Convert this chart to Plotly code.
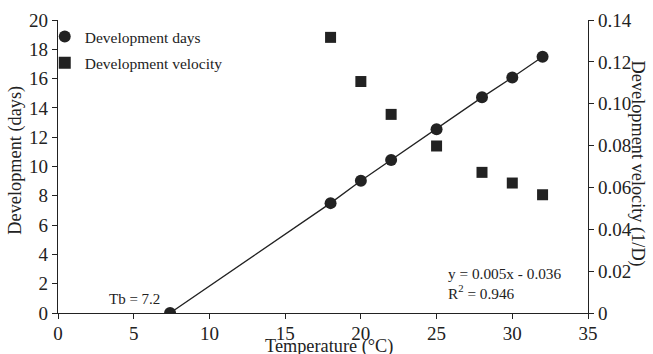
import plotly.graph_objects as go

temps = [7.4, 18, 20, 22, 25, 28, 30, 32]
dev_days = [0, 7.50, 9.03, 10.45, 12.55, 14.72, 16.07, 17.49]
vel_temps = [18, 20, 22, 25, 28, 30, 32]
dev_velocity = [0.1317, 0.1106, 0.0949, 0.0798, 0.0672, 0.0621, 0.0565]

x_ticks = [0, 5, 10, 15, 20, 25, 30, 35]
y_ticks = [0, 2, 4, 6, 8, 10, 12, 14, 16, 18, 20]
y2_ticks = [0, 0.02, 0.04, 0.06, 0.08, 0.10, 0.12, 0.14]
y2_labels = ["0", "0.02", "0.04", "0.06", "0.08", "0.10", "0.12", "0.14"]

C = "#222222"
FONT = "Liberation Serif"

fig = go.Figure()
fig.add_trace(go.Scatter(x=temps, y=dev_days, mode="lines",
                         line=dict(color=C, width=1.3), showlegend=False, hoverinfo="skip"))
fig.add_trace(go.Scatter(x=temps, y=dev_days, mode="markers", name="Development days",
                         legendgroup="a",
                         marker=dict(symbol="circle", size=12, color=C)))
fig.add_trace(go.Scatter(x=vel_temps, y=dev_velocity, mode="markers", name="Development velocity",
                         legendgroup="b",
                         marker=dict(symbol="square", size=11, color=C), yaxis="y2"))

axis_common = dict(showgrid=False, zeroline=False, showline=True, linecolor=C, linewidth=1.3,
                   ticks="outside", ticklen=5, tickwidth=1.3, tickcolor=C, automargin=False,
                   tickfont=dict(family=FONT, size=19, color=C))

fig.update_layout(
    width=653, height=354,
    margin=dict(l=58, r=65, t=20, b=41),
    paper_bgcolor="white", plot_bgcolor="white",
    font=dict(family=FONT, color=C),
    xaxis=dict(range=[0, 35], tickvals=x_ticks, ticklabelstandoff=-2, **axis_common),
    yaxis=dict(range=[0, 20], tickvals=y_ticks, **axis_common),
    yaxis2=dict(range=[0, 0.14], tickvals=y2_ticks, ticktext=y2_labels, overlaying="y", side="right",
                **axis_common),
    legend=dict(x=-0.025, y=1.0, xanchor="left", yanchor="top", bgcolor="rgba(0,0,0,0)",
                font=dict(family=FONT, size=15.5, color=C), itemsizing="constant",
                traceorder="grouped", tracegroupgap=3),
    showlegend=True,
)

TF = dict(family=FONT, size=18.3, color=C)
fig.add_annotation(text="Temperature (°C)", xref="paper", yref="paper", x=0.512, y=0,
                   yshift=-33, xanchor="center", yanchor="middle", showarrow=False, font=TF)
fig.add_annotation(text="Development (days)", textangle=-90, xref="paper", yref="paper",
                   x=0, xshift=-42, y=0.52, xanchor="center", yanchor="middle",
                   showarrow=False, font=TF)
fig.add_annotation(text="Development velocity (1/D)", textangle=90, xref="paper", yref="paper",
                   x=1.0, xshift=49, y=0.51, xanchor="center", yanchor="middle",
                   showarrow=False, font=TF)
fig.add_annotation(text="Tb = 7.2", x=7.4, y=0, xref="x", yref="y", xanchor="right", yanchor="bottom",
                   xshift=-8, yshift=4, showarrow=False, font=dict(family=FONT, size=15, color=C))
fig.add_annotation(text="y = 0.005x - 0.036<br>R<sup>2</sup> = 0.946", x=25.6, y=0.0045, xref="x", yref="y2",
                   xanchor="left", yanchor="bottom", align="left", showarrow=False,
                   font=dict(family=FONT, size=15.3, color=C))

fig.write_html("out.html")
